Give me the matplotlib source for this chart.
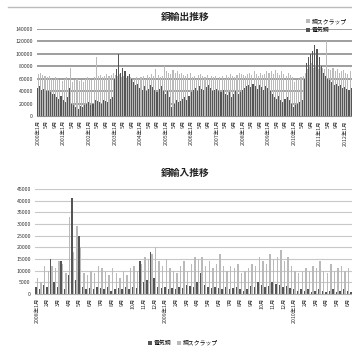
import matplotlib
matplotlib.use("Agg")
import matplotlib.pyplot as plt
import numpy as np
from matplotlib.lines import Line2D

plt.rcParams['font.family'] = ['Noto Sans CJK JP', 'DejaVu Sans']

# ---------------- data ----------------
export_title = "銅輸出推移"
import_title = "銅輸入推移"
series_names = ["電気銅", "銅スクラップ"]

export_cathode = [
    45000, 48000, 42000, 44000, 40000, 41000, 38000, 36000, 35000, 30000, 28000, 32000,
    25000, 22000, 30000, 45000, 20000, 18000, 15000, 12000, 16000, 14000, 18000, 20000,
    22000, 18000, 20000, 25000, 24000, 22000, 20000, 26000, 24000, 22000, 28000, 30000,
    60000, 75000, 100000, 70000, 78000, 72000, 65000, 68000, 60000, 55000, 50000, 52000,
    45000, 42000, 48000, 40000, 44000, 50000, 46000, 42000, 38000, 44000, 48000, 40000,
    36000, 40000, 30000, 15000, 20000, 25000, 22000, 24000, 28000, 30000, 26000, 32000,
    38000, 42000, 45000, 40000, 48000, 44000, 42000, 46000, 50000, 45000, 40000, 42000,
    44000, 40000, 38000, 42000, 36000, 34000, 38000, 30000, 35000, 40000, 36000, 38000,
    42000, 45000, 48000, 50000, 46000, 52000, 48000, 44000, 50000, 46000, 42000, 48000,
    45000, 40000, 35000, 30000, 28000, 32000, 25000, 22000, 28000, 30000, 25000, 20000,
    15000, 18000, 20000, 22000, 25000, 60000, 85000, 95000, 100000, 105000, 115000, 108000,
    95000, 80000, 70000, 65000, 60000, 58000, 55000, 50000, 52000, 48000, 50000, 45000,
    46000, 44000, 42000, 45000, 40000, 42000,
]
export_scrap = [
    68000, 70000, 66000, 64000, 62000, 65000, 60000, 58000, 62000, 60000, 58000, 56000,
    60000, 62000, 58000, 78000, 55000, 58000, 60000, 56000, 58000, 55000, 60000, 62000,
    60000, 58000, 62000, 95000, 64000, 66000, 62000, 65000, 68000, 64000, 66000, 70000,
    66000, 64000, 68000, 62000, 65000, 60000, 64000, 62000, 58000, 60000, 62000, 60000,
    62000, 64000, 60000, 66000, 62000, 68000, 64000, 75000, 66000, 62000, 64000, 80000,
    72000, 70000, 68000, 74000, 70000, 72000, 68000, 70000, 66000, 64000, 68000, 70000,
    62000, 64000, 60000, 66000, 68000, 64000, 62000, 66000, 60000, 64000, 62000, 65000,
    60000, 62000, 64000, 60000, 66000, 62000, 68000, 64000, 62000, 66000, 70000, 68000,
    66000, 64000, 68000, 70000, 66000, 72000, 68000, 64000, 70000, 66000, 68000, 72000,
    70000, 72000, 68000, 74000, 70000, 66000, 72000, 68000, 64000, 70000, 66000, 62000,
    55000, 58000, 60000, 62000, 65000, 70000, 75000, 80000, 85000, 78000, 82000, 76000,
    80000, 78000, 76000, 120000, 76000, 74000, 78000, 72000, 75000, 70000, 72000, 74000,
    70000, 68000, 72000, 66000, 70000, 68000,
]
export_start_year = 2000
export_yticks = [0, 20000, 40000, 60000, 80000, 100000, 120000, 140000]

import_cathode = [
    3000, 2000, 4000, 3000, 15000, 5000, 3000, 14000, 2000,
    8000, 41000, 6000, 25000, 3000, 2000, 2500, 2000, 3000,
    2500, 2000, 3000, 1500, 2000, 2500, 2000, 3000, 2000,
    3000, 2500, 14000, 5000, 6000, 18000, 7000, 3000, 2500,
    3000, 2000, 2500, 2000, 3000, 2500, 4000, 3500, 3000,
    5000, 9000, 4000, 3000, 2500, 3000, 2500, 2000, 3000,
    2000, 2500, 3000, 2000, 1500, 2000, 3500, 3000, 5000,
    4000, 3000, 3500, 5000, 4500, 4000, 3000, 3500, 2500,
    2000, 1500, 2000, 1500, 2000, 1000, 1500, 2000, 1500,
    1000, 1500, 2000, 1000, 1500, 2000, 1500, 1000, 2000,
]
import_scrap = [
    7000, 5000, 12000, 10000, 12000, 11000, 14000, 13000, 9000,
    33000, 18000, 29000, 20000, 9000, 8000, 10000, 9000, 12000,
    11000, 10000, 8000, 11000, 9000, 7000, 10000, 8000, 11000,
    12000, 10000, 13000, 16000, 15000, 17000, 20000, 14000, 12000,
    15000, 11000, 10000, 9000, 12000, 14000, 10000, 13000, 16000,
    15000, 16000, 12000, 14000, 11000, 13000, 17000, 12000, 10000,
    12000, 11000, 13000, 9000, 10000, 11000, 13000, 12000, 16000,
    14000, 13000, 17000, 15000, 16000, 19000, 14000, 16000, 12000,
    10000, 9000, 10000, 11000, 10000, 12000, 11000, 14000, 10000,
    9000, 13000, 10000, 11000, 12000, 10000, 11000, 12000, 15000,
]
import_start_year = 2008
import_yticks = [0, 5000, 10000, 15000, 20000, 25000, 30000, 35000, 40000, 45000]

DARK = "#555555"
LIGHT = "#bababa"
GRID = "#8e8e8e"

W, H = 352, 353
fig = plt.figure(figsize=(W / 100, H / 100), dpi=100)
fig.patch.set_facecolor("white")

def fx(px):
    return px / W

def fy(py):
    return 1 - py / H

# ---------------- top chart ----------------
ax1 = fig.add_axes([fx(37), fy(116), fx(357 - 37), fy(29) - fy(116)])
n1 = len(export_cathode)
x1 = np.arange(n1)
bw = 0.5
ax1.bar(x1 - bw / 2, export_cathode, width=bw, color=DARK, linewidth=0, label=series_names[0], zorder=2)
ax1.bar(x1 + bw / 2, export_scrap, width=bw, color=LIGHT, linewidth=0, label=series_names[1], zorder=2)
ax1.set_xlim(-0.5, n1 - 0.5)
ax1.set_ylim(0, 140000)
ax1.set_yticks(export_yticks)
ax1.set_yticklabels([str(v) for v in export_yticks], fontsize=3.8, color="#333333")
ax1.yaxis.grid(True, color=GRID, linewidth=1.2, zorder=0)
ax1.set_axisbelow(True)
lab_pos1 = list(range(0, n1 - 4, 4))
labs1 = []
for i in lab_pos1:
    yr = export_start_year + i // 12
    mo = i % 12 + 1
    labs1.append(f"{yr}年{mo}月" if mo == 1 else f"{mo}月")
ax1.set_xticks(lab_pos1)
ax1.set_xticklabels(labs1, rotation=90, fontsize=3.8, color="#333333", va="top")
ax1.tick_params(axis="both", length=0, pad=3)
for s in ["top", "right", "left"]:
    ax1.spines[s].set_visible(False)
ax1.spines["bottom"].set_color(GRID)
ax1.spines["bottom"].set_linewidth(0.8)
fig.text(fx(185), fy(17), export_title, ha="center", va="center", fontsize=7, fontweight="bold", color="#222222")

h1, l1 = ax1.get_legend_handles_labels()
fig.legend([h1[1], h1[0]], [l1[1], l1[0]], loc="upper left", bbox_to_anchor=(fx(303), fy(16)),
           frameon=False, fontsize=4.2, handlelength=0.7, handleheight=0.7, labelspacing=0.6,
           borderpad=0, handletextpad=0.3)

fig.add_artist(Line2D([fx(8), 1.0], [fy(7), fy(7)], color="#bbbbbb", linewidth=1.0))

# ---------------- bottom chart ----------------
ax2 = fig.add_axes([fx(35), fy(294), fx(357 - 35), fy(189) - fy(294)])
n2 = len(import_cathode)
x2 = np.arange(n2)
bw2 = 0.4
ax2.bar(x2 - bw2 / 2, import_cathode, width=bw2, color=DARK, linewidth=0, label=series_names[0], zorder=2)
ax2.bar(x2 + bw2 / 2, import_scrap, width=bw2, color=LIGHT, linewidth=0, label=series_names[1], zorder=2)
ax2.set_xlim(-0.5, n2 - 0.5)
ax2.set_ylim(0, 45000)
ax2.set_yticks(import_yticks)
ax2.set_yticklabels([str(v) for v in import_yticks], fontsize=3.8, color="#333333")
ax2.yaxis.grid(True, color="#c8c8c8", linewidth=0.8, zorder=0)
ax2.set_axisbelow(True)
lab_pos2 = list(range(0, n2, 3))
labs2 = []
for k, i in enumerate(lab_pos2):
    yr = import_start_year + k // 12
    mo = k % 12 + 1
    labs2.append(f"{yr}年{mo}月" if mo == 1 else f"{mo}月")
ax2.set_xticks(lab_pos2)
ax2.set_xticklabels(labs2, rotation=90, fontsize=3.8, color="#333333", va="top")
ax2.tick_params(axis="both", length=0, pad=3)
for s in ["top", "right", "left"]:
    ax2.spines[s].set_visible(False)
ax2.spines["bottom"].set_color("#b0b0b0")
ax2.spines["bottom"].set_linewidth(0.8)
fig.text(fx(185), fy(173), import_title, ha="center", va="center", fontsize=7, fontweight="bold", color="#222222")

h2, l2 = ax2.get_legend_handles_labels()
fig.legend(h2, l2, loc="center", bbox_to_anchor=(fx(183), fy(343)), ncol=2,
           frameon=False, fontsize=4.2, handlelength=0.7, handleheight=0.7,
           columnspacing=1.0, borderpad=0, handletextpad=0.3)

fig.savefig("out.png", dpi=100, facecolor="white")
